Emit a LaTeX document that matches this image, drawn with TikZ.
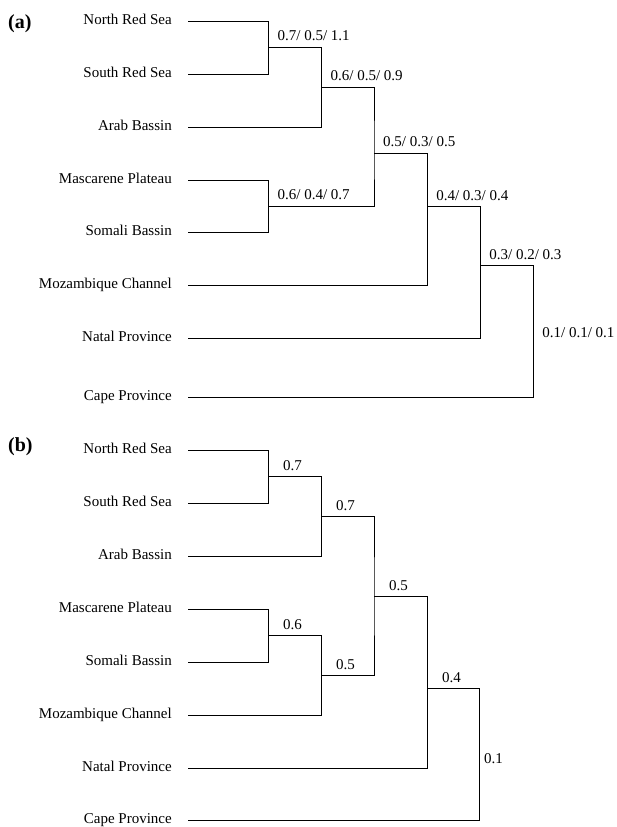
\documentclass[tikz,border=0pt]{standalone}
\usepackage{fontspec}
\setmainfont{Liberation Serif}
\begin{document}
\begin{tikzpicture}[x=1pt,y=-1pt,
  leaf/.style={anchor=base east,inner sep=0pt,font=\fontsize{15}{18}\selectfont},
  val/.style={anchor=base west,inner sep=0pt,font=\fontsize{15}{18}\selectfont},
  panel/.style={anchor=base west,inner sep=0pt,font=\fontsize{20}{24}\selectfont\bfseries},
  br/.style={line width=1pt,line cap=rect}]
\useasboundingbox (0,0) rectangle (616,827);

% ---------------- panel (a) ----------------
\node[panel] (pa) at (8,28) {(a)};
\foreach \n/\y/\t in {1/21/North Red Sea,2/74/South Red Sea,3/127/Arab Bassin,4/180/Mascarene Plateau,5/232.5/Somali Bassin,6/285.7/Mozambique Channel,7/338.7/Natal Province,8/397.7/Cape Province}{
  \node[leaf] (ta\n) at (172,\y+3) {\t};
  \coordinate (la\n) at (188.6,\y);
}
\coordinate (ja1) at (268.4,47.3);
\coordinate (ja2) at (321.4,87.3);
\coordinate (ja3) at (374,153.3);
\coordinate (jam) at (268.4,206);
\coordinate (ja4) at (427.1,206.7);
\coordinate (ja5) at (480.2,265.7);
\coordinate (ja6) at (533.2,265.7);
\draw[br] (la1) -| (ja1) |- (la2);
\draw[br] (ja1) -| (ja2) |- (la3);
\draw[br] (la4) -| (jam) |- (la5);
\draw[br] (ja2) -| (ja3) |- (jam);
\draw[br] (ja3) -| (ja4) |- (la6);
\draw[br] (ja4) -| (ja5) |- (la7);
\draw[br] (ja5) -| (ja6) |- (la8);
\node[val] (va1) at (277.4,40.8) {0.7/ 0.5/ 1.1};
\node[val] (va2) at (330.4,80.8) {0.6/ 0.5/ 0.9};
\node[val] (va3) at (383,146.8) {0.5/ 0.3/ 0.5};
\node[val] (vam) at (277.4,199.5) {0.6/ 0.4/ 0.7};
\node[val] (va4) at (436.1,200.2) {0.4/ 0.3/ 0.4};
\node[val] (va5) at (489.2,259.2) {0.3/ 0.2/ 0.3};
\node[val] (va6) at (542.2,337.5) {0.1/ 0.1/ 0.1};

% ---------------- panel (b) ----------------
\node[panel] (pb) at (8,451) {(b)};
\foreach \n/\y/\t in {1/450/North Red Sea,2/503.3/South Red Sea,3/556/Arab Bassin,4/609/Mascarene Plateau,5/662.3/Somali Bassin,6/715/Mozambique Channel,7/768/Natal Province,8/820.7/Cape Province}{
  \node[leaf] (tb\n) at (172,\y+3) {\t};
  \coordinate (lb\n) at (188.6,\y);
}
\coordinate (jb1) at (268.4,476.7);
\coordinate (jb2) at (321.4,516.7);
\coordinate (jbm) at (268.4,635.7);
\coordinate (jbm2) at (321.4,675.7);
\coordinate (jb3) at (374,596.7);
\coordinate (jb4) at (427.1,688.3);
\coordinate (jb5) at (479.4,688.3);
\draw[br] (lb1) -| (jb1) |- (lb2);
\draw[br] (jb1) -| (jb2) |- (lb3);
\draw[br] (lb4) -| (jbm) |- (lb5);
\draw[br] (jbm) -| (jbm2) |- (lb6);
\draw[br] (jb2) -| (jb3) |- (jbm2);
\draw[br] (jb3) -| (jb4) |- (lb7);
\draw[br] (jb4) -| (jb5) |- (lb8);
\node[val] (vb1) at (283,470.5) {0.7};
\node[val] (vb2) at (336,510.5) {0.7};
\node[val] (vbm) at (283,629.5) {0.6};
\node[val] (vbm2) at (336,669.5) {0.5};
\node[val] (vb3) at (389,590.5) {0.5};
\node[val] (vb4) at (442,682) {0.4};
\node[val] (vb5) at (484,763) {0.1};
\end{tikzpicture}
\end{document}
